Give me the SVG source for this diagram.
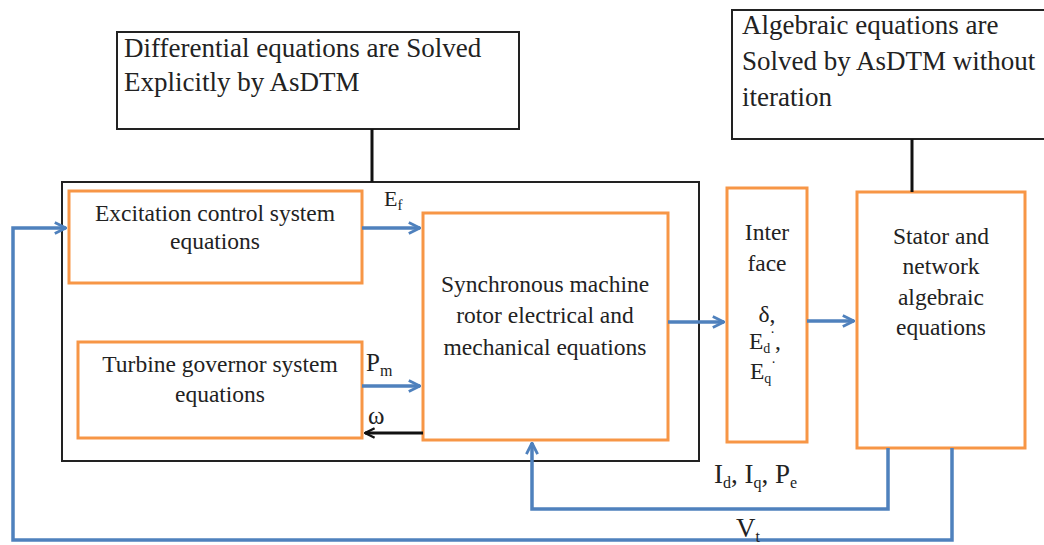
<svg xmlns="http://www.w3.org/2000/svg" width="1044" height="545" viewBox="0 0 1044 545">
<style>
.blk{fill:#fff;stroke:#222;stroke-width:2}
.org{fill:#fff;stroke:#F79646;stroke-width:3}
text{font-family:'Liberation Serif','DejaVu Serif',serif;fill:#222}
.b{fill:none;stroke:#4F81BD;stroke-width:3.5}
.k{fill:none;stroke:#111;stroke-width:3}
</style>
<defs>
<marker id="ab" viewBox="0 0 10 10" refX="9" refY="5" markerWidth="4" markerHeight="4" orient="auto">
<path d="M1,1 L9,5 L1,9" fill="none" stroke="#4F81BD" stroke-width="2"/>
</marker>
<marker id="ak" viewBox="0 0 10 10" refX="9" refY="5" markerWidth="4" markerHeight="4" orient="auto">
<path d="M1,1 L9,5 L1,9" fill="none" stroke="#111" stroke-width="2"/>
</marker>
</defs>
<rect width="1044" height="545" fill="#fff"/>
<g id="note-differential">
<rect class="blk" x="117" y="32" width="402" height="97"/>
<text font-size="27" x="124" y="57">Differential equations are Solved</text>
<text font-size="27" x="124" y="91">Explicitly by AsDTM</text>
</g>
<g id="note-algebraic">
<rect class="blk" x="732" y="10" width="320" height="129"/>
<text font-size="27" x="742" y="34">Algebraic equations are</text>
<text font-size="27" x="742" y="70">Solved by AsDTM without</text>
<text font-size="27" x="742" y="106">iteration</text>
</g>
<g id="outer">
<rect class="blk" x="62" y="182" width="637" height="279"/>
</g>
<g id="excitation">
<rect class="org" x="69" y="191" width="293" height="92"/>
<text font-size="23.5" x="215" y="221" text-anchor="middle">Excitation control system</text>
<text font-size="23.5" x="215" y="249" text-anchor="middle">equations</text>
</g>
<g id="turbine">
<rect class="org" x="78" y="342" width="284" height="96"/>
<text font-size="23.5" x="220" y="372" text-anchor="middle">Turbine governor system</text>
<text font-size="23.5" x="220" y="402" text-anchor="middle">equations</text>
</g>
<g id="synchronous">
<rect class="org" x="423" y="213" width="245" height="227"/>
<text font-size="23.5" x="545" y="292" text-anchor="middle">Synchronous machine</text>
<text font-size="23.5" x="545" y="323" text-anchor="middle">rotor electrical and</text>
<text font-size="23.5" x="545" y="355" text-anchor="middle">mechanical equations</text>
</g>
<g id="interface">
<rect class="org" x="727" y="188" width="80" height="254"/>
<text font-size="23.5" x="767" y="240" text-anchor="middle">Inter</text>
<text font-size="23.5" x="767" y="271" text-anchor="middle">face</text>
<text font-size="23.5" x="767" y="322" text-anchor="middle">δ,</text>
<text font-size="23.5" x="749" y="349">E<tspan font-size="14" dy="4">d</tspan><tspan font-size="14" dy="-16">·</tspan><tspan dy="12">,</tspan></text>
<text font-size="23.5" x="750" y="379">E<tspan font-size="14" dy="4">q</tspan><tspan font-size="14" dy="-16">·</tspan></text>
</g>
<g id="stator">
<rect class="org" x="857" y="192" width="168" height="256"/>
<text font-size="23.5" x="941" y="244" text-anchor="middle">Stator and</text>
<text font-size="23.5" x="941" y="274" text-anchor="middle">network</text>
<text font-size="23.5" x="941" y="305" text-anchor="middle">algebraic</text>
<text font-size="23.5" x="941" y="335" text-anchor="middle">equations</text>
</g>
<g id="connectors">
<line class="k" x1="372" y1="129" x2="372" y2="182"/>
<line class="k" x1="912" y1="139" x2="912" y2="192"/>
<line class="b" x1="362" y1="228" x2="420" y2="228" marker-end="url(#ab)"/>
<line class="b" x1="362" y1="386" x2="420" y2="386" marker-end="url(#ab)"/>
<line class="k" x1="423" y1="433" x2="365" y2="433" marker-end="url(#ak)"/>
<line class="b" x1="668" y1="322" x2="724" y2="322" marker-end="url(#ab)"/>
<line class="b" x1="807" y1="321" x2="854" y2="321" marker-end="url(#ab)"/>
<polyline class="b" points="888,448 888,509 532,509 532,443" marker-end="url(#ab)"/>
<polyline class="b" points="952,448 952,540 13,540 13,228 66,228" marker-end="url(#ab)"/>
<text font-size="22" x="384" y="206">E<tspan font-size="15" dy="4">f</tspan></text>
<text font-size="25" x="366" y="371">P<tspan font-size="16" dy="5">m</tspan></text>
<text font-size="25" x="368" y="424">ω</text>
<text font-size="27" x="714" y="483">I<tspan font-size="16" dy="5">d</tspan><tspan dy="-5">, I</tspan><tspan font-size="16" dy="5">q</tspan><tspan dy="-5">, P</tspan><tspan font-size="16" dy="5">e</tspan></text>
<text font-size="27" x="736" y="537">V<tspan font-size="16" dy="5">t</tspan></text>
</g>
</svg>
